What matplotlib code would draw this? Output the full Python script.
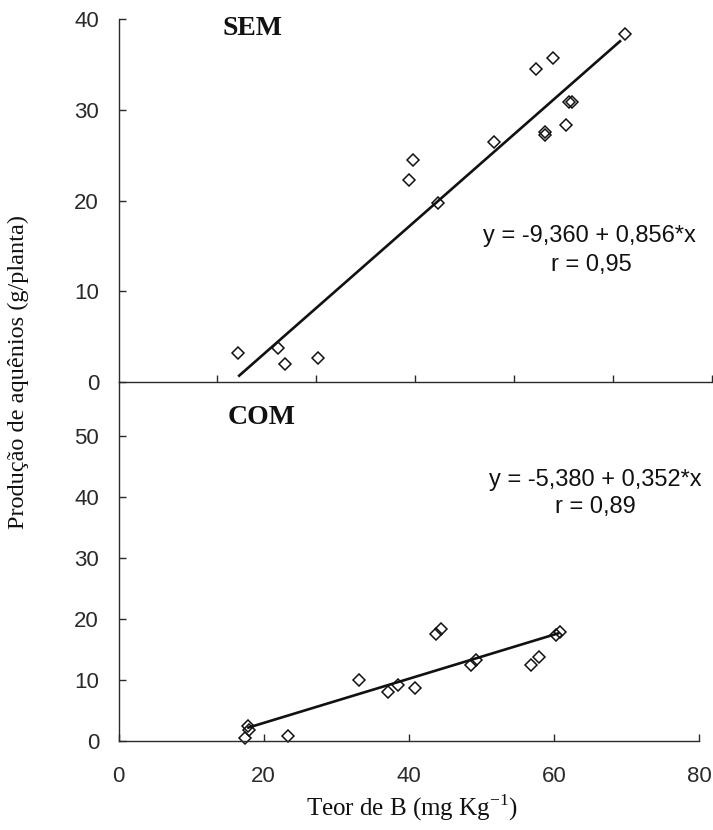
import matplotlib
matplotlib.use("Agg")
import matplotlib.pyplot as plt
import numpy as np

# SEM (painel de cima), eixo x de 0 a 60
sem_x = [12.1, 16.1, 16.8, 20.2, 29.4, 29.8, 32.3, 38.0, 42.2, 43.9,
         43.1, 43.1, 45.2, 45.5, 45.8, 51.2]
sem_y = [3.2, 3.7, 2.0, 2.7, 22.3, 24.5, 19.7, 26.5, 34.5, 35.7,
         27.6, 27.3, 28.4, 30.9, 30.9, 38.4]
sem_reta_x = [12.2, 50.7]
sem_reta_y = [0.7, 37.6]
sem_eq = "y = -9,360 + 0,856*x"
sem_r = "r = 0,95"

# COM (painel de baixo), eixo x de 0 a 80
com_x = [17.5, 17.9, 18.05, 23.3, 33.1, 37.2, 38.5, 40.9, 43.7, 44.4,
         48.6, 49.3, 56.8, 57.9, 60.3, 60.9]
com_y = [0.55, 2.5, 1.75, 0.8, 10.0, 8.1, 9.2, 8.7, 17.5, 18.4,
         12.5, 13.2, 12.5, 13.8, 17.3, 17.8]
com_reta_x = [17.9, 60.6]
com_reta_y = [2.2, 17.65]
com_eq = "y = -5,380 + 0,352*x"
com_r = "r = 0,89"

sem_yticks = [0, 10, 20, 30, 40]
sem_xticks = [10, 20, 30, 40, 50, 60]
com_yticks = [0, 10, 20, 30, 40, 50]
com_xticks = [0, 20, 40, 60, 80]

plt.rcParams['mathtext.fontset'] = 'custom'
plt.rcParams['mathtext.rm'] = 'Liberation Serif'

cor = '#2a2a2a'
sans = 'Liberation Sans'
serif = 'Liberation Serif'


def estilo(ax):
    for s in ['top', 'right']:
        ax.spines[s].set_visible(False)
    for s in ['left', 'bottom']:
        ax.spines[s].set_color(cor)
        ax.spines[s].set_linewidth(1.0)
    ax.set_facecolor('none')
    ax.tick_params(direction='in', length=5, width=1, color=cor,
                   labelcolor=cor, labelsize=16)
    for lab in ax.get_xticklabels() + ax.get_yticklabels():
        lab.set_fontfamily(sans)


def main():
    fig = plt.figure(figsize=(7.13, 8.30), dpi=100)
    fig.patch.set_facecolor('white')

    ax1 = fig.add_axes([0.1662, 0.53976, 0.8324, 0.43675])
    ax2 = fig.add_axes([0.1662, 0.10723, 0.8142, 0.43253])
    ax1.set_zorder(2)

    # painel SEM
    ax1.plot(sem_reta_x, sem_reta_y, color='#111111', lw=1.9)
    ax1.plot(sem_x, sem_y, 'D', ms=6.2, mfc='none', mec='#111111', mew=1.1,
             clip_on=False)
    ax1.set_xlim(0, 60)
    ax1.set_ylim(0, 40)
    ax1.set_xticks(sem_xticks)
    ax1.set_xticklabels([])
    ax1.set_yticks(sem_yticks)
    estilo(ax1)
    ax1.tick_params(axis='y', pad=14)
    ax1.text(0.225, 0.957, "SEM", transform=ax1.transAxes, ha='center',
             va='baseline', fontsize=20, fontweight='bold', family=serif,
             color='#111111')
    ax1.text(0.7936, 0.386, sem_eq, transform=ax1.transAxes, ha='center',
             va='baseline', fontsize=17, family=sans, color='#111111')
    ax1.text(0.796, 0.306, sem_r, transform=ax1.transAxes, ha='center',
             va='baseline', fontsize=17, family=sans, color='#111111')

    # painel COM
    ax2.plot(com_reta_x, com_reta_y, color='#111111', lw=1.9)
    ax2.plot(com_x, com_y, 'D', ms=6.2, mfc='none', mec='#111111', mew=1.1,
             clip_on=False)
    ax2.set_xlim(0, 80)
    ax2.set_ylim(0, 58.85)
    ax2.set_xticks(com_xticks)
    ax2.set_yticks(com_yticks)
    estilo(ax2)
    ax2.tick_params(axis='y', pad=14)
    ax2.tick_params(axis='x', pad=18)
    ax2.text(0.247, 0.883, "COM", transform=ax2.transAxes, ha='center',
             va='baseline', fontsize=20, fontweight='bold', family=serif,
             color='#111111')
    ax2.text(0.822, 0.710, com_eq, transform=ax2.transAxes, ha='center',
             va='baseline', fontsize=17, family=sans, color='#111111')
    ax2.text(0.822, 0.635, com_r, transform=ax2.transAxes, ha='center',
             va='baseline', fontsize=17, family=sans, color='#111111')

    fig.text(18 / 713, 0.552, "Produção de aquênios (g/planta)", rotation=90,
             ha='center', va='center', fontsize=17.5, family=serif,
             color='#111111')
    fig.text(412 / 713, 0.0265, "Teor de B (mg Kg$^{\\mathrm{-1}}$)",
             ha='center', va='center', fontsize=18, family=serif,
             color='#111111')

    fig.savefig('out.png', dpi=100, facecolor='white')


main()
